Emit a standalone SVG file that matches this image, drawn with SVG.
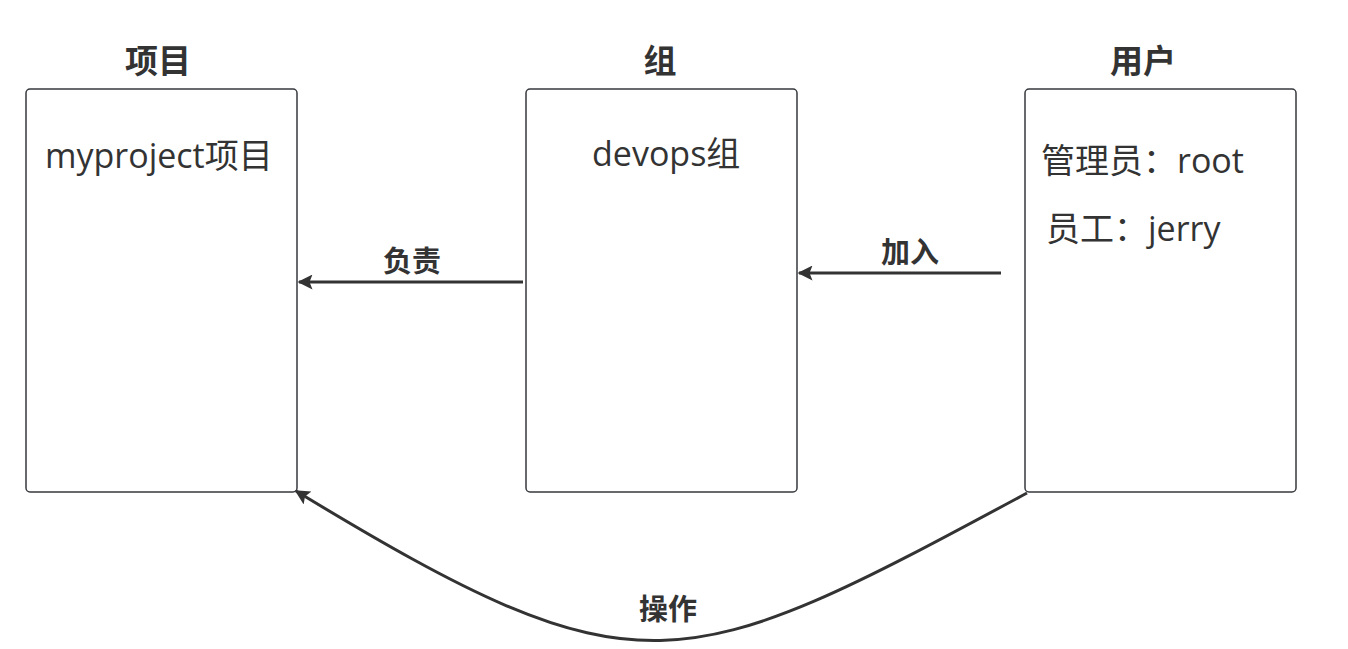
<svg xmlns="http://www.w3.org/2000/svg" width="1348" height="649" viewBox="0 0 1348 649">
<defs>
<style>
.box{fill:#fff;stroke:#36393d;stroke-width:1.5}
.title{font-family:"Noto Sans CJK SC","Noto Sans",sans-serif;font-weight:bold;font-size:33px;fill:#333;text-anchor:middle}
.body{font-family:"Open Sans","Noto Sans CJK SC",sans-serif;font-size:34px;fill:#333}
.lbl{font-family:"Noto Sans CJK SC","Noto Sans",sans-serif;font-weight:bold;font-size:29px;fill:#333;text-anchor:middle}
.conn{fill:none;stroke:#333;stroke-width:3}
</style>
<marker id="arr" viewBox="0 0 10 10" refX="9" refY="5" markerWidth="6.5" markerHeight="5" markerUnits="strokeWidth" orient="auto">
<path d="M0,0 L10,5 L0,10 L2,5 Z" fill="#333"/>
</marker>
</defs>
<rect width="1348" height="649" fill="#fff"/>
<g id="project">
<text class="title" x="158" y="73">项目</text>
<rect class="box" x="26" y="89" width="271" height="403" rx="4"/>
<text class="body" x="45" y="168">myproject项目</text>
</g>
<g id="group">
<text class="title" x="660" y="73">组</text>
<rect class="box" x="526" y="89" width="271" height="403" rx="4"/>
<text class="body" x="592" y="166">devops组</text>
</g>
<g id="user">
<text class="title" x="1143" y="73">用户</text>
<rect class="box" x="1025" y="89" width="271" height="403" rx="4"/>
<text class="body" x="1041" y="173">管理员：root</text>
<text class="body" x="1046" y="241">员工：jerry</text>
</g>
<g id="connectors">
<path class="conn" d="M523,282 L299,282" marker-end="url(#arr)"/>
<text class="lbl" x="412" y="272">负责</text>
<path class="conn" d="M1001,273 L799,273" marker-end="url(#arr)"/>
<text class="lbl" x="910" y="263">加入</text>
<path class="conn" d="M1027,493 C680,680 640,700 296,491" marker-end="url(#arr)"/>
<text class="lbl" x="668" y="620">操作</text>
</g>
</svg>
